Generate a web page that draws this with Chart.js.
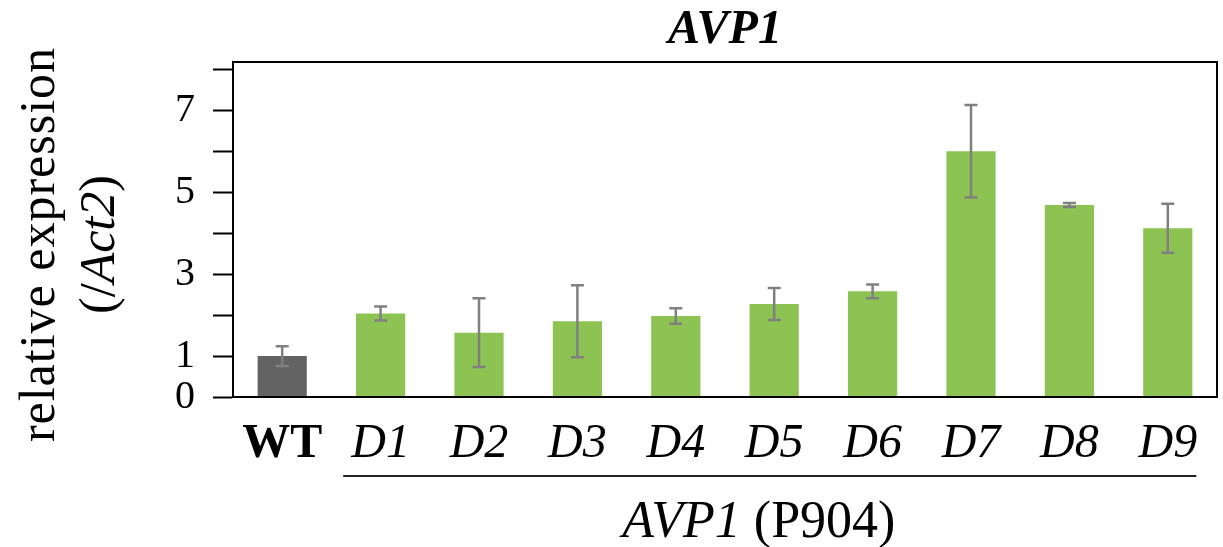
<!DOCTYPE html>
<html>
<head>
<meta charset="utf-8">
<script src="https://cdn.jsdelivr.net/npm/chart.js@4.4.0/dist/chart.umd.min.js"></script>
<style>
  html, body { margin: 0; padding: 0; background: #ffffff; }
  #wrap { width: 1223px; height: 547px; }
</style>
</head>
<body>
<div id="wrap"><canvas id="c" width="1223" height="547"></canvas></div>
<script>
// ---- data ----
const categories = ['WT', 'D1', 'D2', 'D3', 'D4', 'D5', 'D6', 'D7', 'D8', 'D9'];
const expression = [1.00, 2.04, 1.57, 1.85, 1.98, 2.27, 2.58, 6.00, 4.69, 4.12];
const errors     = [0.24, 0.17, 0.84, 0.88, 0.19, 0.39, 0.17, 1.13, 0.05, 0.60];
const yTickValues = [0, 1, 2, 3, 4, 5, 6, 7, 8];
const yTickLabels = [0, 1, 3, 5, 7];
const chartTitle = 'AVP1';
const yTitleLine1 = 'relative expression';
const yTitleLine2 = [['(/', false], ['Act2', true], [')', false]];
const groupLabel = [['AVP1', true], [' (P904)', false]];

const SERIF = '"Liberation Serif", "Times New Roman", serif';

function drawMixed(ctx, parts, size, cx, cy) {
  let total = 0;
  const widths = parts.map(([t, it]) => {
    ctx.font = (it ? 'italic ' : '') + size + 'px ' + SERIF;
    const w = ctx.measureText(t).width; total += w; return w;
  });
  let x = cx - total / 2;
  ctx.textAlign = 'left';
  parts.forEach(([t, it], i) => {
    ctx.font = (it ? 'italic ' : '') + size + 'px ' + SERIF;
    ctx.fillText(t, x, cy);
    x += widths[i];
  });
}

const decorations = {
  id: 'decorations',
  afterDatasetsDraw(chart) {
    const ctx = chart.ctx;
    const y = chart.scales.y;
    const meta = chart.getDatasetMeta(0);
    ctx.save();
    ctx.strokeStyle = '#808080';
    ctx.lineWidth = 2.5;
    meta.data.forEach((bar, i) => {
      const x = bar.x;
      const top = y.getPixelForValue(expression[i] + errors[i]);
      const bot = y.getPixelForValue(expression[i] - errors[i]);
      const hw = 6.5;
      ctx.beginPath();
      ctx.moveTo(x, top); ctx.lineTo(x, bot);
      ctx.moveTo(x - hw, top); ctx.lineTo(x + hw, top);
      ctx.moveTo(x - hw, bot); ctx.lineTo(x + hw, bot);
      ctx.stroke();
    });
    ctx.restore();
  },
  afterDraw(chart) {
    const ctx = chart.ctx;
    const a = chart.chartArea;
    const xs = chart.scales.x;
    ctx.save();
    // plot frame
    ctx.strokeStyle = '#000';
    ctx.lineWidth = 2;
    ctx.strokeRect(a.left, a.top, a.right - a.left, a.bottom - a.top);

    // y-axis title (rotated, two lines)
    ctx.fillStyle = '#000';
    ctx.textBaseline = 'alphabetic';
    const cy = (a.top + a.bottom) / 2 + 15;
    ctx.save();
    ctx.translate(54, cy);
    ctx.rotate(-Math.PI / 2);
    ctx.font = '50px ' + SERIF;
    ctx.textAlign = 'center';
    try { ctx.letterSpacing = '1px'; } catch (e) {}
    ctx.fillText(yTitleLine1, 0, 0);
    try { ctx.letterSpacing = '0px'; } catch (e) {}
    ctx.restore();
    ctx.save();
    ctx.translate(114, cy);
    ctx.rotate(-Math.PI / 2);
    drawMixed(ctx, yTitleLine2, 50, 0, 0);
    ctx.restore();

    // group underline and label
    const cw = xs.getPixelForValue(1) - xs.getPixelForValue(0);
    const x1 = xs.getPixelForValue(1) - 0.38 * cw;
    const x2 = xs.getPixelForValue(9) + 0.29 * cw;
    ctx.strokeStyle = '#222';
    ctx.lineWidth = 2;
    ctx.beginPath();
    ctx.moveTo(x1, 476); ctx.lineTo(x2, 476);
    ctx.stroke();
    ctx.textBaseline = 'alphabetic';
    drawMixed(ctx, groupLabel, 52, (x1 + x2) / 2 - 11, 537);
    ctx.restore();
  }
};

new Chart(document.getElementById('c'), {
  type: 'bar',
  data: {
    labels: categories,
    datasets: [{
      data: expression,
      backgroundColor: (c) => c.dataIndex === 0 ? '#636363' : '#8dc352',
      borderWidth: 0,
      barPercentage: 0.5,
      categoryPercentage: 1.0
    }]
  },
  options: {
    responsive: false,
    animation: false,
    devicePixelRatio: 1,
    layout: { padding: { left: 0, right: 6, top: 0, bottom: 0 } },
    plugins: {
      legend: { display: false },
      tooltip: { enabled: false },
      title: {
        display: true,
        text: chartTitle,
        fullSize: false,
        color: '#000',
        font: { family: SERIF, size: 48, style: 'italic', weight: 'bold', lineHeight: 1.2 },
        padding: { top: 2, bottom: 2.4 }
      }
    },
    scales: {
      x: {
        grid: { display: false, drawTicks: false },
        border: { display: true, color: '#000', width: 2 },
        ticks: {
          color: '#000',
          padding: 19,
          maxRotation: 0,
          autoSkip: false,
          font: (c) => ({
            family: SERIF, size: 48, lineHeight: 1.2,
            style: c.index === 0 ? 'normal' : 'italic',
            weight: c.index === 0 ? 'bold' : 'normal'
          })
        },
        afterFit: (s) => { s.height = 150; }
      },
      y: {
        min: 0,
        max: 8.18,
        afterBuildTicks: (s) => { s.ticks = yTickValues.map(v => ({ value: v })); },
        ticks: {
          autoSkip: false,
          color: '#000',
          padding: 18,
          font: { family: SERIF, size: 40 },
          callback: (v) => yTickLabels.includes(v) ? String(v) : ''
        },
        grid: { drawOnChartArea: false, drawTicks: true, tickLength: 20, tickColor: '#000', tickWidth: 2 },
        border: { display: true, color: '#000', width: 2 },
        afterFit: (s) => { s.width = 233; }
      }
    }
  },
  plugins: [decorations]
});
</script>
</body>
</html>
